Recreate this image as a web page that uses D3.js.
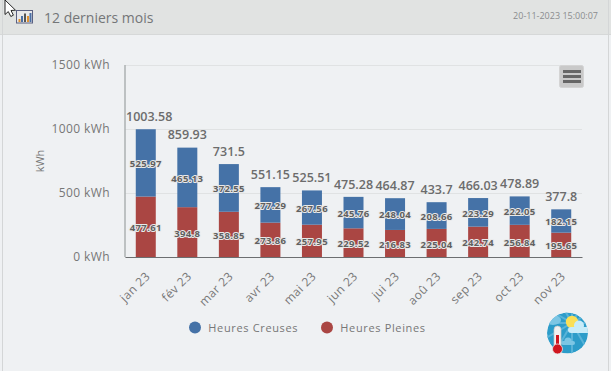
<!DOCTYPE html>
<html>
<head>
<meta charset="utf-8">
<script src="https://cdn.jsdelivr.net/npm/d3@7/dist/d3.min.js"></script>
<style>
  html, body { margin: 0; padding: 0; background: #eff1f3; overflow: hidden; }
  text { font-family: "Open Sans", sans-serif; }
</style>
</head>
<body>
<div id="chart"></div>
<script>
// values
const months = ['jan 23', 'fév 23', 'mar 23', 'avr 23', 'mai 23', 'jun 23', 'jui 23', 'aoû 23', 'sep 23', 'oct 23', 'nov 23']
const creuses = [525.97, 465.13, 372.55, 277.29, 267.56, 245.76, 248.04, 208.66, 223.29, 222.05, 182.15]
const pleines = [477.61, 394.8, 358.85, 273.86, 257.95, 229.52, 216.83, 225.04, 242.74, 256.84, 195.65]
const totals = [1003.58, 859.93, 731.5, 551.15, 525.51, 475.28, 464.87, 433.7, 466.03, 478.89, 377.8]
const yTicks = [0, 500, 1000, 1500]
const seriesNames = ['Heures Creuses', 'Heures Pleines']

const BLUE = '#4572a7', RED = '#aa4643', GRAY = '#777777'

const svg = d3.select('#chart').append('svg')
    .attr('width', 611)
    .attr('height', 371)
    .style('display', 'block')

// panel + header
svg.append('rect').attr('width', 611).attr('height', 371).attr('fill', '#eff1f3')
svg.append('rect').attr('width', 611).attr('height', 34).attr('fill', '#e1e3e2')
svg.append('line').attr('x1', 0).attr('x2', 611).attr('y1', 34.5).attr('y2', 34.5).attr('stroke', '#d6d8d8')
svg.append('line').attr('x1', 2.5).attr('x2', 2.5).attr('y1', 0).attr('y2', 371).attr('stroke', '#d4d6d7')
svg.append('line').attr('x1', 608.5).attr('x2', 608.5).attr('y1', 0).attr('y2', 371).attr('stroke', '#d4d6d7')

svg.append('text').attr('x', 44).attr('y', 23)
    .attr('font-size', 14).attr('fill', '#747678').text('12 derniers mois')
svg.append('text').attr('x', 598).attr('y', 18.5).attr('text-anchor', 'end')
    .attr('font-size', 9).attr('fill', '#8a8c8e').text('20-11-2023 15:00:07')

// header chart icon
const icon = svg.append('g')
icon.append('rect').attr('x', 16.5).attr('y', 10.5).attr('width', 16).attr('height', 12.5)
    .attr('fill', '#e8e8ea').attr('stroke', '#5a6080')
icon.selectAll('.b').data([[18.5, 19, '#e0912f'], [21, 16, '#4a6fa5'], [24, 13.5, '#555'], [27, 16, '#e0912f'], [29.5, 13, '#4a6fa5']])
  .enter().append('rect')
    .attr('x', d => d[0]).attr('y', d => d[1]).attr('width', 2).attr('height', d => 22 - d[1]).attr('fill', d => d[2])

// plot scales
const x = d3.scaleBand().domain(months).range([125, 582])
const y = d3.scaleLinear().domain([0, 1500]).range([257, 65])
const barWidth = 20

// gridlines + y labels
const yAxis = svg.append('g')
    .attr('transform', 'translate(125,0)')
    .call(d3.axisLeft(y).tickValues(yTicks).tickSize(0).tickPadding(15).tickFormat(d => d + ' kWh'))
yAxis.select('.domain').remove()
yAxis.selectAll('text').attr('font-size', 12).attr('letter-spacing', 0.4).attr('fill', GRAY)
    .style('font-family', '"Open Sans", sans-serif')
yAxis.selectAll('line').attr('x2', 457).attr('stroke', '#e0e2e3')

svg.append('text')
    .attr('transform', 'translate(44,161) rotate(-90)')
    .attr('text-anchor', 'middle').attr('font-size', 11).attr('fill', GRAY).text('kWh')

// stacked bars, pleines at the bottom
const rows = months.map((m, i) => ({ month: m, creuses: creuses[i], pleines: pleines[i] }))
const stackedData = d3.stack().keys(['pleines', 'creuses'])(rows)
const color = d3.scaleOrdinal().domain(['creuses', 'pleines']).range([BLUE, RED])

const barX = m => x(m) + (x.bandwidth() - barWidth) / 2
const barOffset = 0.7

svg.append('g')
  .selectAll('g')
  .data(stackedData)
  .enter().append('g')
    .attr('fill', d => color(d.key))
    .selectAll('rect')
    .data(d => d)
    .enter().append('rect')
      .attr('x', d => barX(d.data.month))
      .attr('y', d => y(d[1]) + barOffset)
      .attr('width', barWidth)
      .attr('height', d => y(d[0]) - y(d[1]))

// axis lines
svg.append('line').attr('x1', 125).attr('x2', 125).attr('y1', 65).attr('y2', 257)
    .attr('stroke', '#adb0b2').attr('stroke-width', 1.5)

const xAxis = svg.append('g')
    .attr('transform', 'translate(0,257)')
    .call(d3.axisBottom(x).tickSize(0).tickSizeOuter(0))
xAxis.select('.domain').attr('stroke', '#6c6e70')
xAxis.selectAll('text')
    .attr('font-size', 12)
    .attr('letter-spacing', 0.4)
    .attr('fill', GRAY)
    .style('font-family', '"Open Sans", sans-serif')
    .attr('text-anchor', 'end')
    .attr('dy', 0)
    .attr('y', 0)
    .attr('transform', 'translate(5,20) rotate(-45)')

// segment labels with halo
svg.append('g')
  .selectAll('g')
  .data(stackedData)
  .enter().append('g')
    .selectAll('text')
    .data(d => d)
    .enter().append('text')
      .attr('x', d => x(d.data.month) + x.bandwidth() / 2)
      .attr('y', d => (y(d[0]) + y(d[1])) / 2 + 5)
      .attr('text-anchor', 'middle')
      .attr('font-size', 9.5)
      .attr('font-weight', 'bold')
      .attr('letter-spacing', 0.35)
      .attr('fill', '#606060')
      .attr('stroke', '#e9e9e9')
      .attr('stroke-width', 2)
      .attr('paint-order', 'stroke')
      .attr('stroke-linejoin', 'round')
      .text(d => +(d[1] - d[0]).toFixed(2))

// totals above each bar, kept inside the plot on the left
svg.append('g')
  .selectAll('text')
  .data(totals)
  .enter().append('text')
    .attr('y', d => y(d) - 7.5)
    .attr('text-anchor', 'middle')
    .attr('font-size', 12.5)
    .attr('font-weight', 600)
    .attr('fill', '#6c6c6c')
    .text(d => d)
    .each(function(d, i) {
        const half = this.getComputedTextLength() / 2
        d3.select(this).attr('x', Math.max(x(months[i]) + x.bandwidth() / 2, 126 + half))
    })

// legend
const legendX = [195, 327]
const legend = svg.append('g').selectAll('g').data(seriesNames).enter().append('g')
    .attr('transform', (d, i) => 'translate(' + legendX[i] + ',327.5)')
legend.append('circle').attr('r', 6).attr('fill', (d, i) => [BLUE, RED][i])
legend.append('text').attr('x', 13.3).attr('y', 4.2).attr('font-size', 11)
    .attr('letter-spacing', 0.65).attr('fill', GRAY).text(d => d)

// export menu button
const menu = svg.append('g')
menu.append('rect').attr('x', 559.5).attr('y', 65.5).attr('width', 24).attr('height', 22).attr('rx', 2)
    .attr('fill', '#c9c9c9').attr('stroke', '#d4d4d4')
menu.selectAll('.l').data([71.5, 76.5, 81.5]).enter().append('line')
    .attr('x1', 563).attr('x2', 581).attr('y1', d => d).attr('y2', d => d)
    .attr('stroke', '#666').attr('stroke-width', 3)

// weather badge
svg.append('clipPath').attr('id', 'badge-clip')
  .append('circle').attr('cx', 567.5).attr('cy', 333).attr('r', 20.5)
const badge = svg.append('g').attr('clip-path', 'url(#badge-clip)')
badge.append('circle').attr('cx', 567.5).attr('cy', 333).attr('r', 20.5).attr('fill', '#2c9cc9')
// rays
badge.selectAll('.ray').data(d3.range(0, 360, 30)).enter().append('line')
    .attr('x1', 572).attr('y1', 323)
    .attr('x2', a => 572 + 40 * Math.cos(a * Math.PI / 180))
    .attr('y2', a => 323 + 40 * Math.sin(a * Math.PI / 180))
    .attr('stroke', '#58b3d8').attr('stroke-width', 2)
// clouds
badge.append('ellipse').attr('cx', 553).attr('cy', 320).attr('rx', 8).attr('ry', 5).attr('fill', '#7cc6e4')
badge.append('circle').attr('cx', 572).attr('cy', 322).attr('r', 6.2).attr('fill', '#fadf55')
badge.append('circle').attr('cx', 579).attr('cy', 325.5).attr('r', 5).attr('fill', '#c7ebf8')
badge.append('rect').attr('x', 568).attr('y', 327).attr('width', 22).attr('height', 6).attr('rx', 3).attr('fill', '#c7ebf8')
badge.append('circle').attr('cx', 568).attr('cy', 341).attr('r', 3.6).attr('fill', '#7cc6e4')
badge.append('rect').attr('x', 561).attr('y', 341).attr('width', 14).attr('height', 4).attr('rx', 2).attr('fill', '#7cc6e4')

// thermometer sits over the badge edge
const thermo = svg.append('g')
thermo.append('rect').attr('x', 554).attr('y', 326).attr('width', 7).attr('height', 23).attr('rx', 3.5)
    .attr('fill', '#f1f1f1').attr('stroke', '#c4c4c4').attr('stroke-width', 0.7)
thermo.append('rect').attr('x', 556).attr('y', 335).attr('width', 3).attr('height', 14).attr('fill', '#d0161f')
thermo.append('circle').attr('cx', 557.5).attr('cy', 349).attr('r', 5).attr('fill', '#d0161f')
    .attr('stroke', '#e4e4e4').attr('stroke-width', 0.8)

// mouse pointer left in the screenshot
svg.append('path')
    .attr('d', 'M5,0 L5,14.5 L8.3,11.6 L10.8,16.5 L13.4,15.2 L11,10.5 L15.5,10.2 Z')
    .attr('fill', '#fff').attr('stroke', '#111').attr('stroke-width', 0.9)
</script>
</body>
</html>
